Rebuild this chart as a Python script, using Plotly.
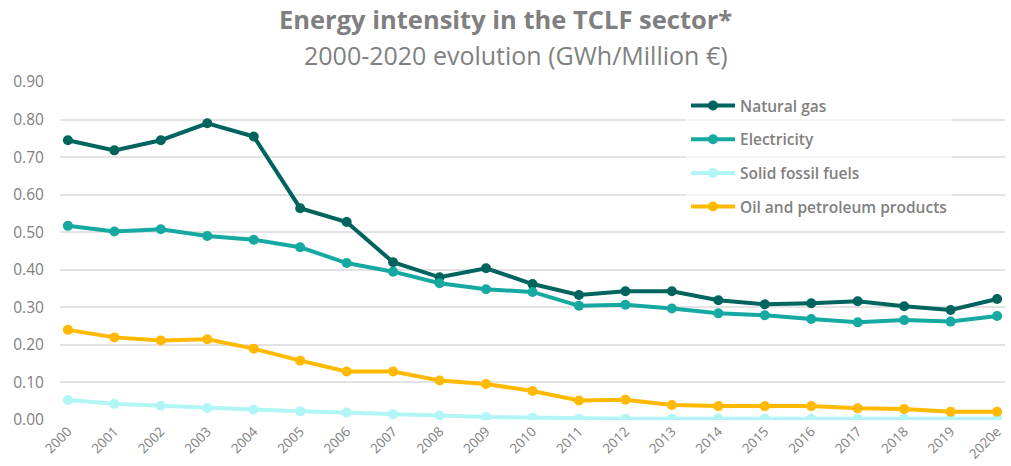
import plotly.graph_objects as go

years = ["2000", "2001", "2002", "2003", "2004", "2005", "2006", "2007", "2008", "2009",
         "2010", "2011", "2012", "2013", "2014", "2015", "2016", "2017", "2018", "2019", "2020e"]

natural_gas = [0.745, 0.718, 0.745, 0.790, 0.755, 0.564, 0.527, 0.420, 0.380, 0.404,
               0.362, 0.333, 0.343, 0.343, 0.319, 0.308, 0.311, 0.316, 0.303, 0.293, 0.322]
electricity = [0.517, 0.502, 0.508, 0.490, 0.480, 0.460, 0.418, 0.395, 0.364, 0.348,
               0.341, 0.304, 0.307, 0.297, 0.284, 0.279, 0.269, 0.260, 0.266, 0.262, 0.277]
solid_fossil = [0.053, 0.043, 0.038, 0.032, 0.028, 0.023, 0.020, 0.015, 0.012, 0.008,
                0.006, 0.003, 0.003, 0.003, 0.003, 0.003, 0.003, 0.003, 0.003, 0.003, 0.003]
oil_petroleum = [0.240, 0.220, 0.212, 0.215, 0.190, 0.158, 0.129, 0.129, 0.105, 0.096,
                 0.077, 0.052, 0.054, 0.040, 0.037, 0.037, 0.037, 0.031, 0.029, 0.022, 0.022]

y_ticks = [0.0, 0.1, 0.2, 0.3, 0.4, 0.5, 0.6, 0.7, 0.8, 0.9]

title_text = "Energy intensity in the TCLF sector*"
subtitle_text = "2000-2020 evolution (GWh/Million €)"

series = [
    ("Natural gas", natural_gas, "#00645E"),
    ("Electricity", electricity, "#15A9A1"),
    ("Solid fossil fuels", solid_fossil, "#B2F5F6"),
    ("Oil and petroleum products", oil_petroleum, "#FFB900"),
]

x_idx = list(range(len(years)))

fig = go.Figure()
for name, vals, color in series:
    fig.add_trace(go.Scatter(
        x=x_idx, y=vals, name=name, mode="lines+markers",
        line=dict(color=color, width=4),
        marker=dict(color=color, size=10),
        legendgroup=name,
    ))

grey = "#808080"
W, H = 1011, 466
ML, MR, MT, MB = 60, 6, 82, 46
PW, PH = W - ML - MR, H - MT - MB

fig.update_layout(
    width=W, height=H,
    margin=dict(l=ML, r=MR, t=MT, b=MB),
    paper_bgcolor="white", plot_bgcolor="white",
    showlegend=True,
    legend=dict(
        x=(686 - ML) / PW, y=1 - (89 - MT) / PH, xanchor="left", yanchor="top",
        bgcolor="rgba(255,255,255,0.6)",
        font=dict(family="Open Sans, sans-serif", size=15.5, color=grey, weight=600),
        tracegroupgap=10.5,
        itemwidth=44,
    ),
    xaxis=dict(
        tickmode="array", tickvals=x_idx, ticktext=years,
        range=[-0.17, 20.17], tickangle=-45, automargin=False,
        showgrid=False, zeroline=False, showline=False,
        tickfont=dict(family="Open Sans, sans-serif", size=13.5, color=grey),
    ),
    yaxis=dict(
        range=[0, 0.9], tickvals=y_ticks, tickformat=".2f", automargin=False,
        showgrid=True, gridcolor="#E3E3E3", gridwidth=2,
        zeroline=False, showline=False,
        ticks="outside", ticklen=12, tickcolor="rgba(0,0,0,0)",
        tickfont=dict(family="Open Sans, sans-serif", size=15.5, color=grey),
    ),
    annotations=[
        dict(text="<b>" + title_text + "</b>", xref="paper", yref="paper",
             x=(505 - ML) / PW, y=1.0 + (MT - 19) / PH,
             xanchor="center", yanchor="middle", showarrow=False,
             font=dict(family="Open Sans, sans-serif", size=25.5, color=grey)),
        dict(text=subtitle_text, xref="paper", yref="paper",
             x=(516 - ML) / PW, y=1.0 + (MT - 55) / PH,
             xanchor="center", yanchor="middle", showarrow=False,
             font=dict(family="Open Sans, sans-serif", size=25, color=grey)),
    ],
)

fig.write_html("out.html", config={"displayModeBar": False},
               post_script="document.body.style.margin='0';")
